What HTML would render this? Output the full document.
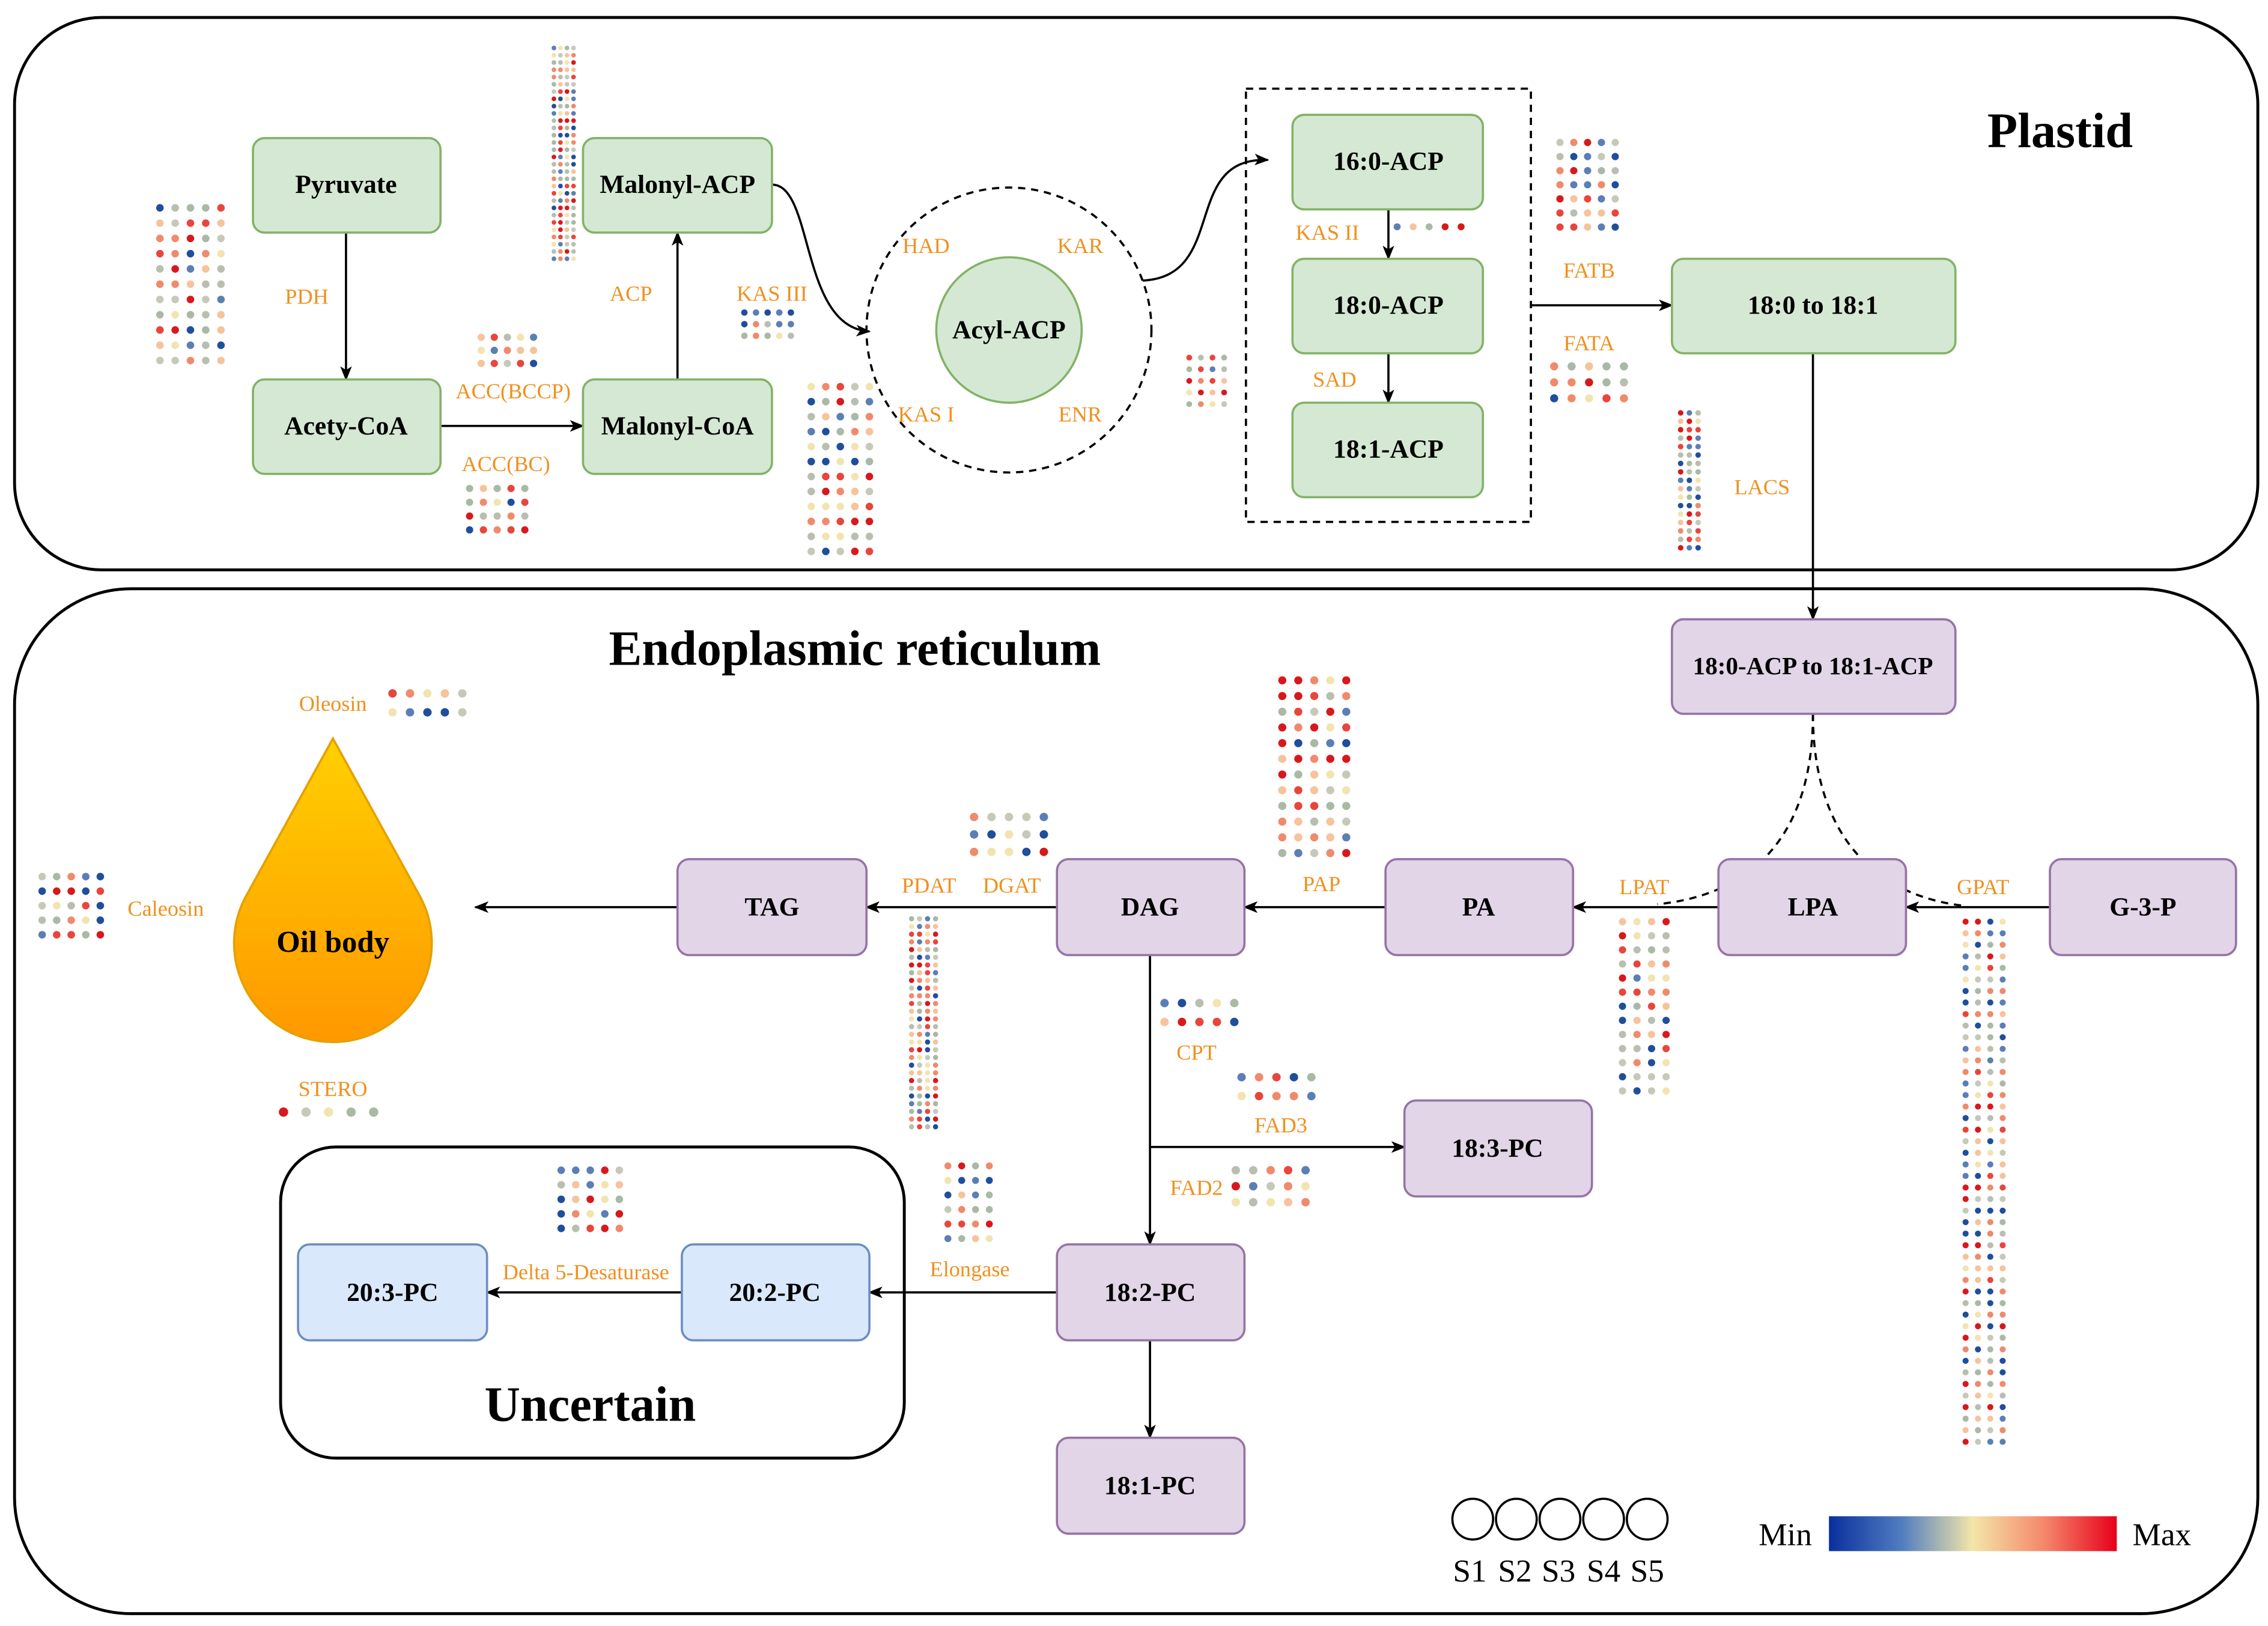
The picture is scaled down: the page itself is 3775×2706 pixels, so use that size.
<!DOCTYPE html>
<html><head><meta charset="utf-8">
<style>
html,body{margin:0;padding:0;background:#fff;}
svg{display:block;}
.n{font-family:"Liberation Serif",serif;font-weight:bold;font-size:18px;fill:#000;text-anchor:middle;dominant-baseline:central;}
.l{font-family:"Liberation Serif",serif;font-size:15px;fill:#f0901e;text-anchor:middle;dominant-baseline:central;}
.t{font-family:"Liberation Serif",serif;font-weight:bold;font-size:34px;fill:#000;text-anchor:middle;dominant-baseline:central;}
</style></head><body>
<svg id="s" width="3775" height="2706" viewBox="0 0 1560 1118.5" preserveAspectRatio="none" xmlns="http://www.w3.org/2000/svg">
<defs>
<marker id="a" markerWidth="10" markerHeight="8" refX="9" refY="4" orient="auto" markerUnits="userSpaceOnUse"><path d="M0,0 L10,4 L0,8 L2.5,4 z" fill="#000"/></marker>
<linearGradient id="g" x1="0" x2="1"><stop offset="0" stop-color="#0a2f9e"/><stop offset="0.25" stop-color="#4f7cc0"/><stop offset="0.5" stop-color="#f3e6a8"/><stop offset="0.75" stop-color="#f4866a"/><stop offset="1" stop-color="#e6001a"/></linearGradient>
<linearGradient id="oil" x1="0" y1="0" x2="0" y2="1"><stop offset="0" stop-color="#ffd000"/><stop offset="1" stop-color="#ff9800"/></linearGradient>
</defs>
<rect x="10" y="12" width="1543" height="380" rx="60" fill="none" stroke="#000" stroke-width="2"/>
<rect x="10" y="405" width="1543" height="705" rx="80" fill="none" stroke="#000" stroke-width="2"/>
<rect x="193" y="789" width="429" height="214" rx="38" fill="none" stroke="#000" stroke-width="2"/>
<rect x="857" y="61" width="196" height="298" fill="none" stroke="#000" stroke-width="1.5" stroke-dasharray="5,4"/>
<circle cx="694" cy="227" r="98" fill="none" stroke="#000" stroke-width="1.5" stroke-dasharray="5,4"/>
<circle cx="694" cy="227" r="50" fill="#d5e8d4" stroke="#82b366" stroke-width="1.5"/>
<text class="n" x="694" y="227">Acyl-ACP</text>
<g fill="none" stroke="#000" stroke-width="1.5" marker-end="url(#a)">
<path d="M238,160 V261"/><path d="M303,293 H401"/><path d="M466,261 V160"/>
<path d="M531,127 C560,127 550,225 598,228"/>
<path d="M786,193 C845,190 812,108 872,110"/>
<path d="M955,144 V178"/><path d="M955,243 V277"/>
<path d="M1053,210 H1150"/><path d="M1247,243 V426"/>
<path d="M1410,624 H1311"/><path d="M1182,624 H1082"/><path d="M953,624 H856"/>
<path d="M727,624 H596"/><path d="M466,624 H327"/>
<path d="M791,657 V856"/><path d="M791,789 H966"/>
<path d="M727,889 H598"/><path d="M469,889 H335"/><path d="M791,921 V989"/>
</g>
<g fill="none" stroke="#000" stroke-width="1.5" stroke-dasharray="5,4">
<path d="M1247,491 C1247,570 1210,615 1140,622"/>
<path d="M1247,491 C1247,570 1285,615 1350,623"/>
</g>
<g stroke-width="1.5">
<g fill="#d5e8d4" stroke="#82b366">
<rect x="174" y="95" width="129" height="65" rx="8"/><rect x="174" y="261" width="129" height="65" rx="8"/>
<rect x="401" y="95" width="130" height="65" rx="8"/><rect x="401" y="261" width="130" height="65" rx="8"/>
<rect x="889" y="79" width="131" height="65" rx="8"/><rect x="889" y="178" width="131" height="65" rx="8"/>
<rect x="889" y="277" width="131" height="65" rx="8"/><rect x="1150" y="178" width="195" height="65" rx="8"/>
</g>
<g fill="#e1d5e7" stroke="#9673a6">
<rect x="1150" y="426" width="195" height="65" rx="8"/>
<rect x="466" y="591" width="130" height="66" rx="8"/><rect x="727" y="591" width="129" height="66" rx="8"/>
<rect x="953" y="591" width="129" height="66" rx="8"/><rect x="1182" y="591" width="129" height="66" rx="8"/>
<rect x="1410" y="591" width="128" height="66" rx="8"/><rect x="966" y="757" width="129" height="66" rx="8"/>
<rect x="727" y="856" width="129" height="66" rx="8"/><rect x="727" y="989" width="129" height="66" rx="8"/>
</g>
<g fill="#dae8fc" stroke="#6c8ebf">
<rect x="205" y="856" width="130" height="66" rx="8"/><rect x="469" y="856" width="129" height="66" rx="8"/>
</g>
</g>
<path d="M229,508 L170,615 A68,68 0 1 0 288,615 Z" fill="url(#oil)" stroke="#e5a000" stroke-width="1.5"/>
<text class="n" x="229" y="648" style="font-size:21px">Oil body</text>
<text class="n" x="238" y="127">Pyruvate</text><text class="n" x="238" y="293">Acety-CoA</text>
<text class="n" x="466" y="127">Malonyl-ACP</text><text class="n" x="466" y="293">Malonyl-CoA</text>
<text class="n" x="955" y="111">16:0-ACP</text><text class="n" x="955" y="210">18:0-ACP</text>
<text class="n" x="955" y="309">18:1-ACP</text><text class="n" x="1247" y="210">18:0 to 18:1</text>
<text class="n" x="1247" y="458" style="font-size:17px">18:0-ACP to 18:1-ACP</text>
<text class="n" x="531" y="624">TAG</text><text class="n" x="791" y="624">DAG</text>
<text class="n" x="1017" y="624">PA</text><text class="n" x="1247" y="624">LPA</text>
<text class="n" x="1474" y="624">G-3-P</text><text class="n" x="1030" y="790">18:3-PC</text>
<text class="n" x="791" y="889">18:2-PC</text><text class="n" x="791" y="1022">18:1-PC</text>
<text class="n" x="270" y="889">20:3-PC</text><text class="n" x="533" y="889">20:2-PC</text>
<text class="t" x="1417" y="90">Plastid</text>
<text class="t" x="588" y="446">Endoplasmic reticulum</text>
<text class="t" x="406" y="966">Uncertain</text>
<g>
<text class="l" x="211" y="204">PDH</text><text class="l" x="353" y="269">ACC(BCCP)</text><text class="l" x="348" y="319">ACC(BC)</text>
<text class="l" x="434" y="202">ACP</text><text class="l" x="531" y="202">KAS III</text><text class="l" x="637" y="169">HAD</text>
<text class="l" x="743" y="169">KAR</text><text class="l" x="637" y="285">KAS I</text><text class="l" x="743" y="285">ENR</text>
<text class="l" x="913" y="160">KAS II</text><text class="l" x="918" y="261">SAD</text><text class="l" x="1093" y="186">FATB</text>
<text class="l" x="1093" y="236">FATA</text><text class="l" x="1212" y="335">LACS</text><text class="l" x="229" y="484">Oleosin</text>
<text class="l" x="114" y="625">Caleosin</text><text class="l" x="229" y="749">STERO</text><text class="l" x="639" y="609">PDAT</text>
<text class="l" x="696" y="609">DGAT</text><text class="l" x="909" y="608">PAP</text><text class="l" x="1131" y="610">LPAT</text>
<text class="l" x="1364" y="610">GPAT</text><text class="l" x="823" y="724">CPT</text><text class="l" x="881" y="774">FAD3</text>
<text class="l" x="823" y="817">FAD2</text><text class="l" x="667" y="873">Elongase</text><text class="l" x="403" y="875">Delta 5-Desaturase</text>
</g>
<g fill="none" stroke="#000" stroke-width="1.5">
<circle cx="1013" cy="1045" r="14"/><circle cx="1043" cy="1045" r="14"/><circle cx="1073" cy="1045" r="14"/><circle cx="1103" cy="1045" r="14"/><circle cx="1133" cy="1045" r="14"/>
</g>
<g font-family="Liberation Serif,serif" font-size="22" text-anchor="middle">
<text x="1011" y="1088">S1</text><text x="1042" y="1088">S2</text><text x="1072" y="1088">S3</text><text x="1103" y="1088">S4</text><text x="1133" y="1088">S5</text>
<text x="1228" y="1063">Min</text><text x="1487" y="1063">Max</text>
</g>
<rect x="1258" y="1043" width="198" height="24" fill="url(#g)"/>
<g id="dots"></g>
</svg>
<script>
var pal=['#1f4e9c','#5b7fb5','#a9b9a5','#c7c9b8','#f2e4b0','#f6c39c','#f08a6c','#e8453c','#d7191c','#b8bfb0'];
var seed=7;function r(){seed=(seed*16807)%2147483647;return seed/2147483647;}
var grids=[[110,143,5,11,10.5,10.5,2.6],[381,33,4,30,4.5,5,1.6],[331,232,5,3,9,9,2.5],[323,336,5,4,9.5,9.5,2.5],
[512,215,5,3,8,8,2.2],[558,266,5,12,10,10.3,2.6],[818,246,4,5,8,8,2],[961,156,5,1,11,0,2.4],[1073,98,5,7,9.5,9.7,2.5],
[1069,252,5,3,12,11,2.8],[1156,284,3,17,6,5.8,1.9],[270,477,5,2,12,13,2.9],[29,603,5,5,10,10,2.6],[195,765,5,1,15.5,0,3.2],
[882,468,5,12,11,10.8,2.8],[670,562,5,3,12,12,2.9],[627,632,4,28,5.5,5.3,1.8],[801,690,5,2,12,13,2.9],[854,741,5,2,12,13,2.9],
[850,805,5,3,12,11,2.9],[386,805,5,5,10,10,2.6],[652,802,4,6,9.5,10,2.4],[1116,634,4,13,10,9.7,2.5],[1352,634,4,46,8.5,7.95,2.1]];
var h='';grids.forEach(function(g){for(var j=0;j<g[3];j++)for(var i=0;i<g[2];i++){h+='<circle cx="'+(g[0]+i*g[4]).toFixed(1)+'" cy="'+(g[1]+j*g[5]).toFixed(1)+'" r="'+g[6]+'" fill="'+pal[Math.floor(r()*pal.length)]+'"/>';}});
document.getElementById('dots').innerHTML=h;
</script>
</body></html>
